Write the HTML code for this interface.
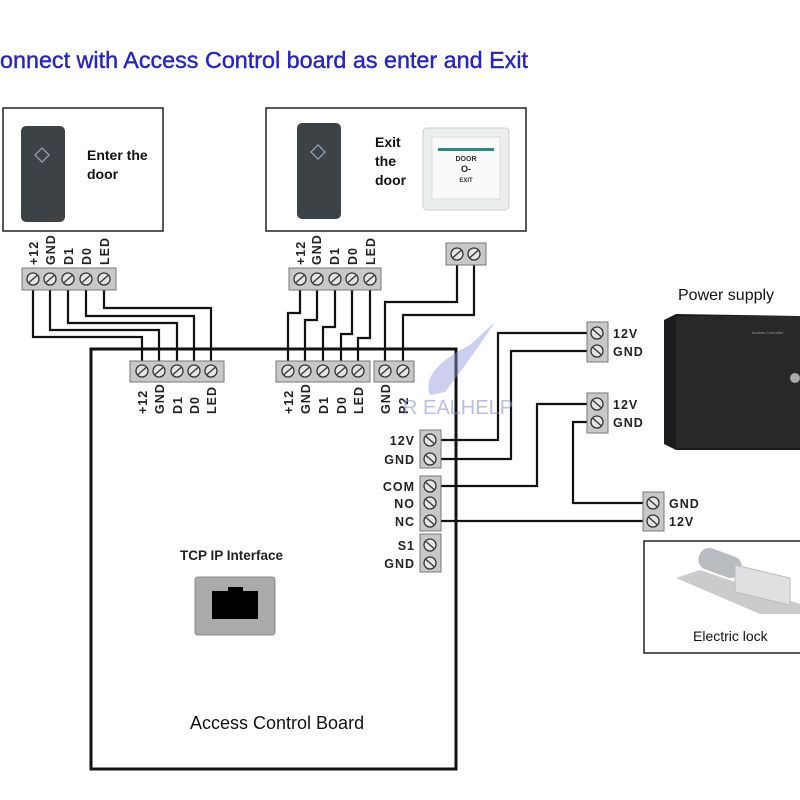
<!DOCTYPE html>
<html><head><meta charset="utf-8"><style>
html,body{margin:0;padding:0;background:#fff;}
svg{display:block;}
text{font-family:"Liberation Sans",sans-serif;}
.lb{font-size:12.5px;font-weight:bold;fill:#222;letter-spacing:1px;}
.w{fill:none;stroke:#111;stroke-width:2.2;}
</style></head><body>
<svg width="800" height="800" viewBox="0 0 800 800" xmlns="http://www.w3.org/2000/svg">
<defs>
<g id="s"><circle r="6" fill="#e4e4e4" stroke="#333" stroke-width="1.3"/><line x1="-4" y1="3.5" x2="4" y2="-3.5" stroke="#333" stroke-width="1.3"/></g>
<g id="s2"><circle r="6" fill="#e4e4e4" stroke="#333" stroke-width="1.3"/><line x1="-4" y1="-3.5" x2="4" y2="3.5" stroke="#333" stroke-width="1.3"/></g>
</defs>
<rect width="800" height="800" fill="#fff"/>
<text x="0" y="68" font-size="23" fill="#2424c8" stroke="#2424c8" stroke-width="0.4" textLength="528" lengthAdjust="spacingAndGlyphs">onnect with Access Control board as enter and Exit</text>

<!-- reader boxes -->
<rect x="3" y="108" width="160" height="123" fill="#fff" stroke="#222" stroke-width="1.5"/>
<rect x="266" y="108" width="260" height="123" fill="#fff" stroke="#222" stroke-width="1.5"/>
<rect x="21" y="126" width="44" height="96" rx="5" fill="#3d4246"/>
<rect x="37" y="150" width="10" height="10" fill="none" stroke="#9ab" stroke-width="1.2" transform="rotate(45 42 155)"/>
<text x="87" y="160" font-size="14" font-weight="bold" fill="#111">Enter the</text>
<text x="87" y="179" font-size="14" font-weight="bold" fill="#111">door</text>
<rect x="297" y="123" width="44" height="96" rx="5" fill="#3d4246"/>
<rect x="313" y="147" width="10" height="10" fill="none" stroke="#9ab" stroke-width="1.2" transform="rotate(45 318 152)"/>
<text x="375" y="147" font-size="14" font-weight="bold" fill="#111">Exit</text>
<text x="375" y="166" font-size="14" font-weight="bold" fill="#111">the</text>
<text x="375" y="185" font-size="14" font-weight="bold" fill="#111">door</text>
<rect x="423" y="128" width="86" height="82" rx="4" fill="#eceeee" stroke="#ccc"/>
<rect x="432" y="137" width="68" height="62" fill="#fafafa" stroke="#ddd"/>
<rect x="438" y="148" width="56" height="3" fill="#2a8a8a"/>
<text x="466" y="161" font-size="7" font-weight="bold" text-anchor="middle" fill="#333">DOOR</text>
<text x="466" y="172" font-size="9" font-weight="bold" text-anchor="middle" fill="#222">O-</text>
<text x="466" y="182" font-size="6" font-weight="bold" text-anchor="middle" fill="#333">EXIT</text>

<!-- top labels rotated -->
<g class="lb">
<text transform="translate(38,265) rotate(-90)">+12</text>
<text transform="translate(55,265) rotate(-90)">GND</text>
<text transform="translate(73,265) rotate(-90)">D1</text>
<text transform="translate(91,265) rotate(-90)">D0</text>
<text transform="translate(109,265) rotate(-90)">LED</text>
<text transform="translate(305,265) rotate(-90)">+12</text>
<text transform="translate(321,265) rotate(-90)">GND</text>
<text transform="translate(339,265) rotate(-90)">D1</text>
<text transform="translate(357,265) rotate(-90)">D0</text>
<text transform="translate(375,265) rotate(-90)">LED</text>
</g>

<!-- wires -->
<polyline class="w" points="33,290 33,337 142,337 142,362"/>
<polyline class="w" points="50,290 50,330 159,330 159,362"/>
<polyline class="w" points="68,290 68,323 177,323 177,362"/>
<polyline class="w" points="86,290 86,316 194,316 194,362"/>
<polyline class="w" points="104,290 104,308 211,308 211,362"/>
<polyline class="w" points="300,290 300,313 288,313 288,362"/>
<polyline class="w" points="317,290 317,320 305,320 305,362"/>
<polyline class="w" points="335,290 335,327 323,327 323,362"/>
<polyline class="w" points="352,290 352,334 341,334 341,362"/>
<polyline class="w" points="370,290 370,338 358,338 358,362"/>
<polyline class="w" points="457,265 457,302 385,302 385,362"/>
<polyline class="w" points="474,265 474,315 403,315 403,362"/>
<polyline class="w" points="441,440 498,440 498,333 587,333"/>
<polyline class="w" points="441,459 511,459 511,351 587,351"/>
<polyline class="w" points="441,486 537,486 537,404 587,404"/>
<polyline class="w" points="587,422 573,422 573,503 643,503"/>
<polyline class="w" points="441,521 643,521"/>

<!-- board -->
<rect x="91" y="349" width="365" height="420" fill="none" stroke="#111" stroke-width="3"/>

<!-- top terminals -->
<rect x="22" y="268" width="94" height="22" fill="#c8c8c8" stroke="#777"/>
<use href="#s" x="33" y="279"/><use href="#s" x="50" y="279"/><use href="#s" x="68" y="279"/><use href="#s" x="86" y="279"/><use href="#s" x="104" y="279"/>
<rect x="289" y="268" width="92" height="22" fill="#c8c8c8" stroke="#777"/>
<use href="#s" x="300" y="279"/><use href="#s" x="317" y="279"/><use href="#s" x="335" y="279"/><use href="#s" x="352" y="279"/><use href="#s" x="370" y="279"/>
<rect x="446" y="243" width="40" height="22" fill="#c8c8c8" stroke="#777"/>
<use href="#s" x="457" y="254"/><use href="#s" x="474" y="254"/>

<!-- board terminals -->
<rect x="130" y="361" width="94" height="21" fill="#c8c8c8" stroke="#777"/>
<use href="#s" x="142" y="371"/><use href="#s" x="159" y="371"/><use href="#s" x="177" y="371"/><use href="#s" x="194" y="371"/><use href="#s" x="211" y="371"/>
<rect x="276" y="361" width="94" height="21" fill="#c8c8c8" stroke="#777"/>
<use href="#s" x="288" y="371"/><use href="#s" x="305" y="371"/><use href="#s" x="323" y="371"/><use href="#s" x="341" y="371"/><use href="#s" x="358" y="371"/>
<rect x="374" y="361" width="40" height="21" fill="#c8c8c8" stroke="#777"/>
<use href="#s" x="385" y="371"/><use href="#s" x="403" y="371"/>
<g class="lb">
<text transform="translate(147,414) rotate(-90)">+12</text>
<text transform="translate(164,414) rotate(-90)">GND</text>
<text transform="translate(182,414) rotate(-90)">D1</text>
<text transform="translate(199,414) rotate(-90)">D0</text>
<text transform="translate(216,414) rotate(-90)">LED</text>
<text transform="translate(293,414) rotate(-90)">+12</text>
<text transform="translate(310,414) rotate(-90)">GND</text>
<text transform="translate(328,414) rotate(-90)">D1</text>
<text transform="translate(346,414) rotate(-90)">D0</text>
<text transform="translate(363,414) rotate(-90)">LED</text>
<text transform="translate(390,414) rotate(-90)">GND</text>
<text transform="translate(408,414) rotate(-90)">P2</text>
</g>

<!-- watermark -->
<path d="M430,395 Q420,370 470,345 L495,322 Q470,360 445,392 Z" fill="#8a96d8" opacity="0.45"/>
<text x="403" y="414" font-size="20" fill="#8a96d8" opacity="0.6" font-family="Liberation Serif">R EALHELP</text>

<!-- right board terminals -->
<rect x="420" y="430" width="21" height="38" fill="#c8c8c8" stroke="#777"/>
<use href="#s2" x="430" y="440"/><use href="#s2" x="430" y="459"/>
<rect x="420" y="476" width="21" height="55" fill="#c8c8c8" stroke="#777"/>
<use href="#s2" x="430" y="486"/><use href="#s2" x="430" y="503"/><use href="#s2" x="430" y="521"/>
<rect x="420" y="534" width="21" height="38" fill="#c8c8c8" stroke="#777"/>
<use href="#s2" x="430" y="545"/><use href="#s2" x="430" y="563"/>
<g class="lb" text-anchor="end">
<text x="415" y="445">12V</text><text x="415" y="464">GND</text>
<text x="415" y="491">COM</text><text x="415" y="508">NO</text><text x="415" y="526">NC</text>
<text x="415" y="550">S1</text><text x="415" y="568">GND</text>
</g>

<!-- PS terminals -->
<rect x="587" y="322" width="21" height="40" fill="#c8c8c8" stroke="#777"/>
<use href="#s2" x="597" y="333"/><use href="#s2" x="597" y="351"/>
<rect x="587" y="393" width="21" height="40" fill="#c8c8c8" stroke="#777"/>
<use href="#s2" x="597" y="404"/><use href="#s2" x="597" y="422"/>
<rect x="643" y="492" width="21" height="39" fill="#c8c8c8" stroke="#777"/>
<use href="#s2" x="653" y="503"/><use href="#s2" x="653" y="521"/>
<g class="lb">
<text x="613" y="338">12V</text><text x="613" y="356">GND</text>
<text x="613" y="409">12V</text><text x="613" y="427">GND</text>
<text x="669" y="508">GND</text><text x="669" y="526">12V</text>
</g>

<!-- power supply -->
<text x="678" y="300" font-size="16" fill="#111">Power supply</text>
<polygon points="664,320 676,314 800,316 800,450 676,450 664,444" fill="#1c1c1e"/>
<rect x="676" y="316" width="124" height="132" fill="#28282b"/>
<text x="752" y="334" font-size="4" fill="#999">Access Controller</text>
<circle cx="795" cy="378" r="5" fill="#aaa"/>

<!-- lock -->
<rect x="644" y="541" width="160" height="112" fill="#fff" stroke="#222" stroke-width="1.5"/>
<polygon points="676,578 700,570 800,604 800,614 760,614" fill="#c9cbcc"/>
<rect x="698" y="552" width="44" height="22" rx="10" fill="#b8bcc0" transform="rotate(20 720 563)"/>
<polygon points="735,565 790,578 790,605 735,592" fill="#dfe0e2" stroke="#bbb"/>
<text x="693" y="641" font-size="14" fill="#111">Electric lock</text>

<!-- TCP -->
<text x="180" y="560" font-size="13.5" font-weight="bold" fill="#222">TCP IP Interface</text>
<rect x="195" y="577" width="80" height="58" rx="3" fill="#aaa" stroke="#888"/>
<rect x="212" y="591" width="46" height="28" fill="#000"/>
<rect x="228" y="587" width="15" height="5" fill="#000"/>
<text x="190" y="729" font-size="18" fill="#111">Access Control Board</text>
</svg>
</body></html>
